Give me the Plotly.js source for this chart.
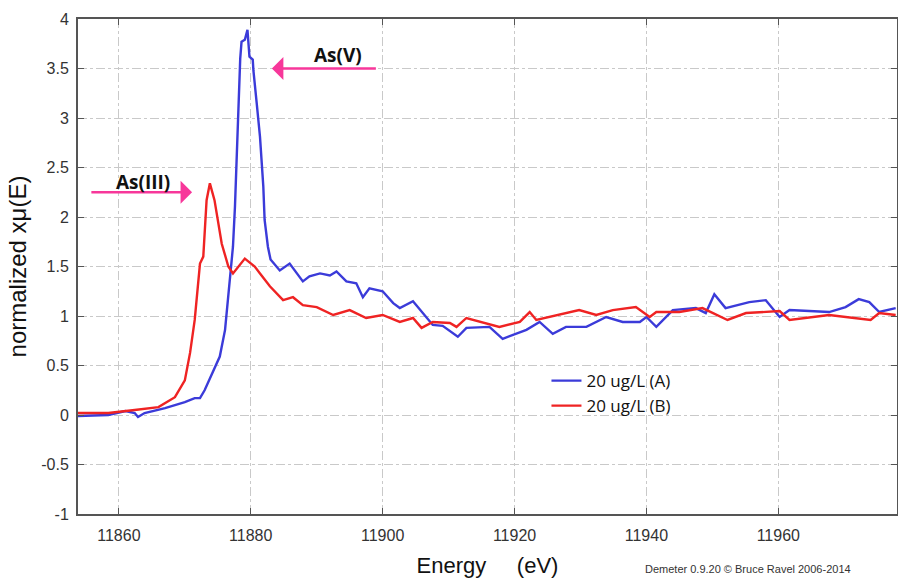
<!DOCTYPE html>
<html>
<head>
<meta charset="utf-8">
<script src="https://cdn.plot.ly/plotly-3.0.1.min.js"></script>
<style>html,body{margin:0;padding:0;background:#fff;}#chart{width:898px;height:581px;}</style>
</head>
<body>
<div id="chart"></div>
<script>
// Sample A (blue)
const energyA = [11853.8, 11858.4, 11861, 11862.4, 11862.9, 11863.9, 11867, 11870, 11871.5, 11872.3, 11873, 11874.5, 11875.3, 11876.1, 11876.8, 11877.3, 11877.6, 11877.9, 11878.2, 11878.4, 11878.6, 11879.1, 11879.5, 11879.8, 11880.3, 11880.4, 11880.9, 11881.4, 11881.9, 11882.1, 11882.6, 11883, 11884.4, 11885.9, 11887.9, 11888.9, 11890.5, 11892, 11893, 11894.5, 11896, 11897, 11898, 11900, 11901.6, 11902.6, 11904.6, 11906.1, 11907.6, 11909.1, 11911.4, 11912.7, 11916.2, 11918.2, 11921.8, 11923.8, 11925.8, 11927.8, 11930.9, 11933.9, 11936.4, 11939, 11940, 11941.5, 11944, 11947.5, 11949, 11950.3, 11952, 11955.6, 11958.1, 11960.2, 11961.7, 11967.7, 11970.2, 11972.2, 11973.8, 11975.3, 11977.8];
const muA = [-0.01, 0.00, 0.04, 0.02, -0.02, 0.02, 0.07, 0.13, 0.17, 0.17, 0.25, 0.47, 0.59, 0.86, 1.33, 1.70, 2.10, 2.70, 3.20, 3.60, 3.77, 3.79, 3.89, 3.62, 3.59, 3.48, 3.15, 2.81, 2.31, 1.97, 1.70, 1.57, 1.46, 1.53, 1.35, 1.40, 1.43, 1.41, 1.45, 1.35, 1.33, 1.19, 1.28, 1.25, 1.13, 1.08, 1.15, 1.03, 0.91, 0.90, 0.79, 0.88, 0.89, 0.77, 0.86, 0.94, 0.82, 0.89, 0.89, 0.99, 0.94, 0.94, 0.99, 0.89, 1.06, 1.08, 1.03, 1.22, 1.08, 1.14, 1.16, 0.99, 1.06, 1.04, 1.09, 1.17, 1.14, 1.04, 1.08];

// Sample B (red)
const energyB = [11853.8, 11858.4, 11862.4, 11866, 11868.5, 11870, 11870.8, 11871.5, 11872.3, 11872.8, 11873.3, 11873.8, 11874.5, 11875.6, 11876.6, 11877.3, 11879.1, 11880.6, 11881.4, 11882.9, 11884.9, 11886.4, 11887.9, 11890, 11892.5, 11895, 11897.5, 11900, 11902.6, 11904.6, 11905.9, 11907.6, 11910.2, 11911.2, 11912.7, 11917.7, 11920.8, 11922.3, 11923.3, 11929.8, 11932.4, 11934.9, 11938.4, 11940.5, 11941.5, 11945, 11948.5, 11952.3, 11955.1, 11960.2, 11961.7, 11967.7, 11974, 11975.3, 11977.8];
const muB = [0.02, 0.02, 0.05, 0.08, 0.18, 0.35, 0.63, 0.96, 1.53, 1.60, 2.17, 2.34, 2.17, 1.73, 1.50, 1.43, 1.58, 1.50, 1.43, 1.30, 1.16, 1.19, 1.11, 1.09, 1.01, 1.06, 0.98, 1.01, 0.94, 0.98, 0.88, 0.94, 0.93, 0.89, 0.98, 0.89, 0.94, 1.04, 0.96, 1.06, 1.01, 1.06, 1.09, 0.99, 1.04, 1.04, 1.08, 0.96, 1.03, 1.05, 0.96, 1.01, 0.96, 1.03, 1.01];

const seriesNames = ["20 ug/L (A)", "20 ug/L (B)"];
const xTicks = [11860, 11880, 11900, 11920, 11940, 11960];
const yTicks = [-1, -0.5, 0, 0.5, 1, 1.5, 2, 2.5, 3, 3.5, 4];
const labelV = {text: "As(V)", x: 11893.2, y: 3.64, headX: 11883.2, tailX: 11899.2, arrowY: 3.5};
const labelIII = {text: "As(III)", x: 11863.6, y: 2.35, headX: 11871.1, tailX: 11855.6, arrowY: 2.25};

const traces = [
  {x: energyA, y: muA, name: seriesNames[0], type: "scatter", mode: "lines", line: {color: "#3b3bd9", width: 2.4}},
  {x: energyB, y: muB, name: seriesNames[1], type: "scatter", mode: "lines", line: {color: "#ef2323", width: 2.4}}
];

const pink = "#f7379a";
function arrowAnn(l) {
  return {x: l.headX, y: l.arrowY, ax: l.tailX, ay: l.arrowY, xref: "x", yref: "y", axref: "x", ayref: "y",
    text: "", showarrow: true, arrowhead: 1, arrowsize: 1.6, arrowwidth: 2.4, arrowcolor: pink, standoff: 0};
}
function textAnn(l) {
  return {x: l.x, y: l.y, xref: "x", yref: "y", text: "<b>" + l.text + "</b>", showarrow: false,
    font: {family: "Open Sans, sans-serif", size: 19, color: "#111"}};
}

const tickFont = {family: "Liberation Sans, Arial, sans-serif", size: 16, color: "#333"};

const layout = {
  width: 898, height: 581,
  margin: {l: 78, r: 1, t: 19, b: 67},
  paper_bgcolor: "#fff", plot_bgcolor: "#fff",
  showlegend: true,
  legend: {x: 0.572, y: 0.305, xanchor: "left", yanchor: "top", bgcolor: "rgba(0,0,0,0)",
    font: {family: "Open Sans, sans-serif", size: 17, color: "#111"}, tracegroupgap: 0, itemwidth: 30},
  xaxis: {
    range: [11853.8, 11978], tickvals: xTicks, ticktext: xTicks.map(String),
    showgrid: true, gridcolor: "#c9c9c9", griddash: "dashdot", gridwidth: 1,
    showline: true, linecolor: "#555", linewidth: 2, mirror: "ticks",
    ticks: "inside", ticklen: 6, tickcolor: "#555", zeroline: false,
    tickfont: tickFont, ticklabelstandoff: 6,
    title: {text: "Energy\u00a0\u00a0\u00a0\u00a0 (eV)", standoff: 14, font: {family: "Liberation Sans, Arial, sans-serif", size: 22, color: "#111"}}
  },
  yaxis: {
    range: [-1, 4], tickvals: yTicks, ticktext: yTicks.map(String),
    showgrid: true, gridcolor: "#c9c9c9", griddash: "dashdot", gridwidth: 1,
    showline: true, linecolor: "#555", linewidth: 2, mirror: "ticks",
    ticks: "inside", ticklen: 6, tickcolor: "#555", zeroline: false,
    tickfont: tickFont, ticklabelstandoff: 4,
    title: {text: "normalized x\u03bc(E)", standoff: 8, font: {family: "Liberation Sans, Arial, sans-serif", size: 24, color: "#111"}}
  },
  annotations: [
    arrowAnn(labelV), textAnn(labelV), arrowAnn(labelIII), textAnn(labelIII),
    {x: 1, y: 0, xref: "paper", yref: "paper", xanchor: "right", yanchor: "top", yshift: -47, xshift: -44,
      text: "Demeter 0.9.20 \u00a9 Bruce Ravel 2006-2014", showarrow: false,
      font: {family: "Liberation Sans, Arial, sans-serif", size: 11, color: "#333"}}
  ]
};

Plotly.newPlot("chart", traces, layout, {displayModeBar: false, staticPlot: true});
</script>
</body>
</html>
